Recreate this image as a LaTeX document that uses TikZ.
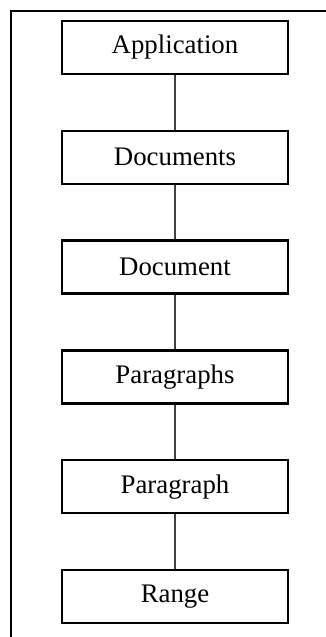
\documentclass[tikz,border=0pt]{standalone}
\usepackage{fontspec}
\setmainfont{Liberation Serif}
\usetikzlibrary{positioning}

\begin{document}
\begin{tikzpicture}[
  node distance=27.2pt,
  box/.style={draw, line width=1.2pt, minimum height=26.5pt, minimum width=113pt, inner sep=0pt, font=\fontsize{13.4}{16}\selectfont, align=center},
  link/.style={line width=0.6pt, draw=black!75}
]
  \clip (0,0) rectangle (163pt,-318.5pt);
  % outer frame, cut off at the right and bottom
  \draw[line width=1.1pt] (5.5pt,-330pt) -- (5.5pt,-5.5pt) -- (175pt,-5.5pt);
  \node[box] (app) at (87.5pt,-23.75pt) {Application};
  \node[box, below=of app] (docs) {Documents};
  \node[box, below=of docs] (doc) {Document};
  \node[box, below=of doc] (paras) {Paragraphs};
  \node[box, below=of paras] (para) {Paragraph};
  \node[box, below=of para] (range) {Range};
  \draw[link] (app) -- (docs);
  \draw[link] (docs) -- (doc);
  \draw[link] (doc) -- (paras);
  \draw[link] (paras) -- (para);
  \draw[link] (para) -- (range);
\end{tikzpicture}
\end{document}
